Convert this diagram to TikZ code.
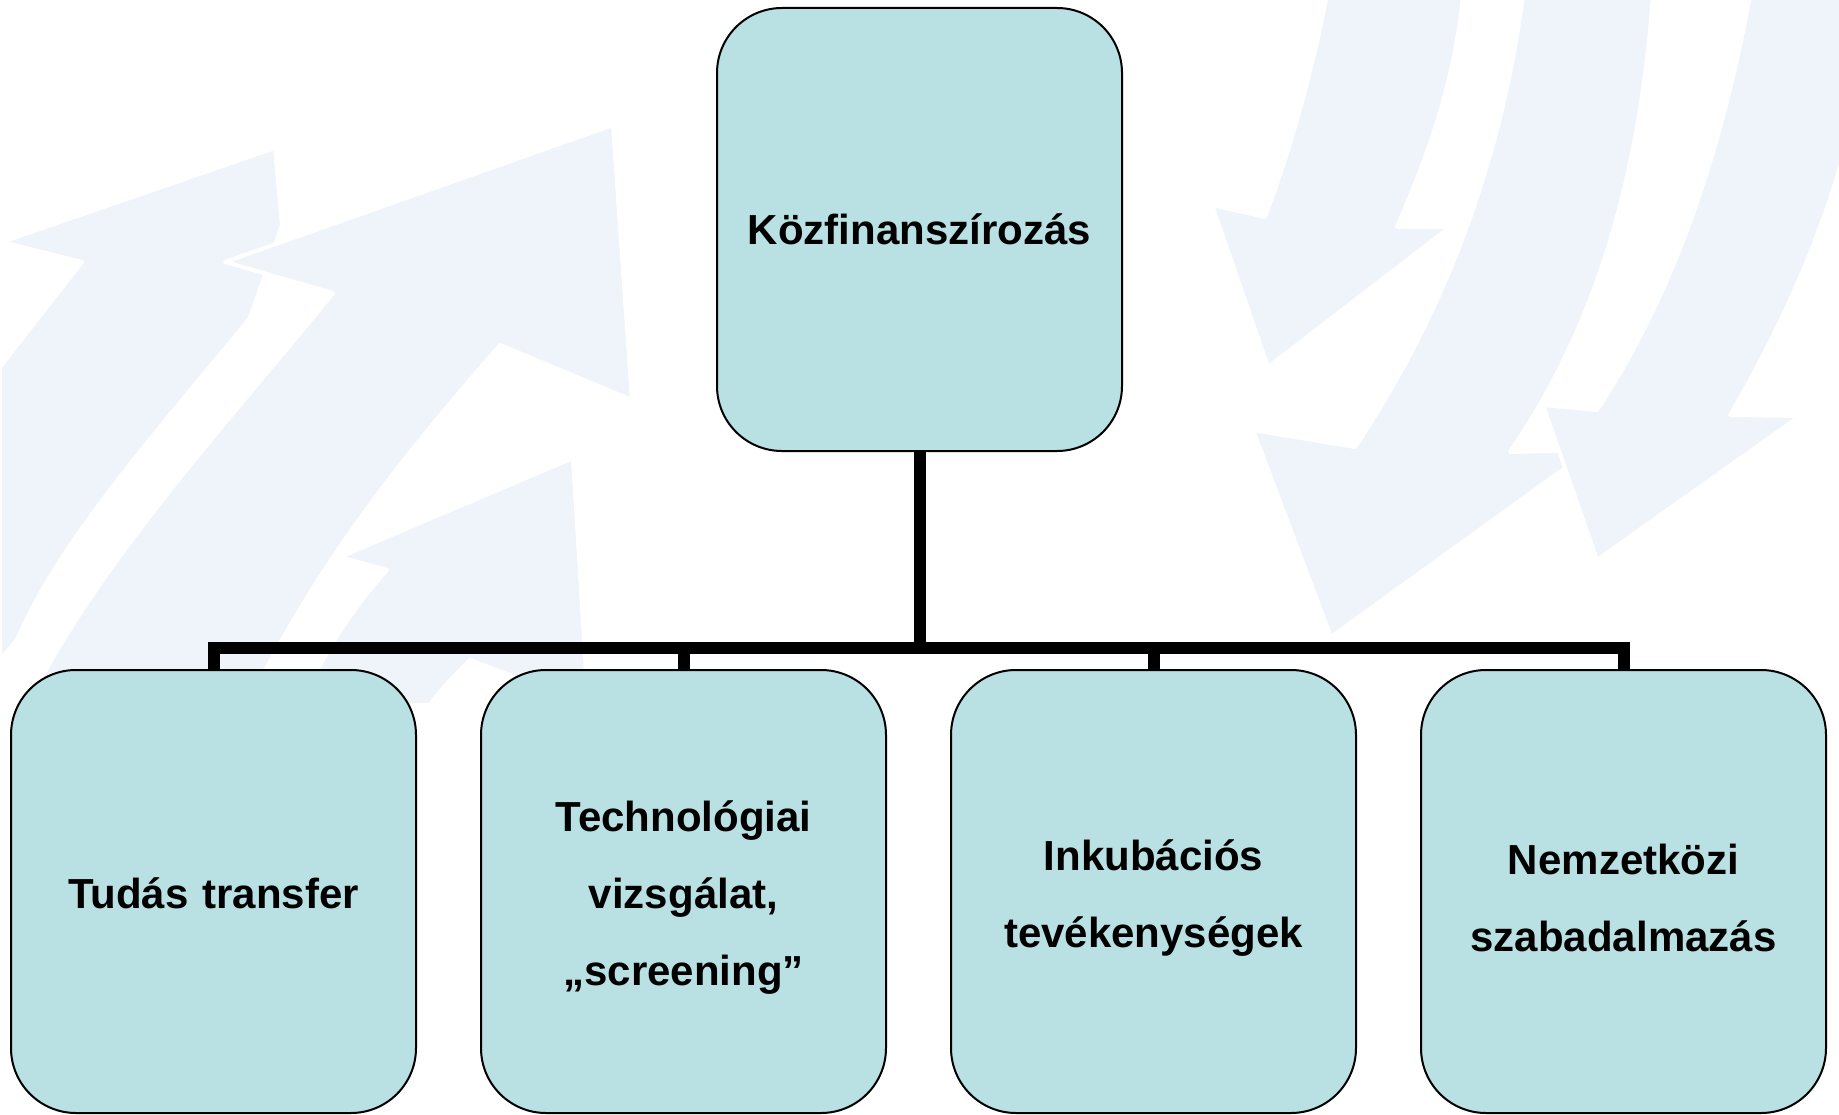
\documentclass[tikz,border=0pt]{standalone}
\usepackage{fontspec}
\setmainfont{Liberation Sans}
\definecolor{boxfill}{RGB}{185,224,227}
\definecolor{bgarrow}{RGB}{239,244,251}
\newcommand{\toppad}{\rule{0pt}{43pt}}
\begin{document}
\begin{tikzpicture}[x=1pt,y=-1pt,
  box/.style={draw=black, line width=2pt, fill=boxfill, rounded corners=65pt,
    minimum width=405pt, minimum height=443pt, inner sep=0pt,
    align=center, text width=390pt,
    font=\fontsize{42}{77}\selectfont\bfseries},
  conn/.style={draw=black, line width=12pt},
  bgshape/.style={fill=bgarrow, draw=white, line width=4pt, line join=round}]
\useasboundingbox (0,0) rectangle (1839,1115);
\fill[white] (0,0) rectangle (1839,1115);
% background arrows (left, pointing up-right)
\path[bgshape] (0,367) -- (82,262) -- (2,242) -- (275,148) -- (282,225) -- (250,318)
  .. controls (150,440) and (60,540) .. (17,640) -- (0,660) -- cycle;
\path[bgshape] (333,293) -- (225,262) -- (613,125) -- (632,400) -- (500,345)
  .. controls (400,460) and (320,560) .. (250,700) -- (30,700)
  .. controls (100,560) and (230,420) .. cycle;
\path[bgshape] (387,570) -- (340,557) -- (573,458) -- (588,705) -- (470,660)
  .. controls (450,680) and (440,690) .. (430,705) -- (300,705)
  .. controls (330,640) and (360,600) .. cycle;
% background arrows (right, pointing down-left)
\path[bgshape] (1327,-5) .. controls (1310,80) and (1290,150) .. (1265,217)
  -- (1212,205) -- (1268,367) -- (1450,227) -- (1397,227)
  .. controls (1430,150) and (1455,80) .. (1463,-5) -- cycle;
\path[bgshape] (1523,-5) .. controls (1500,170) and (1440,320) .. (1355,447)
  -- (1253,430) -- (1331,637) -- (1590,450) -- (1510,452)
  .. controls (1600,320) and (1640,170) .. (1653,-5) -- cycle;
\path[bgshape] (1750,-5) .. controls (1720,160) and (1670,300) .. (1597,410)
  -- (1543,405) -- (1597,560) -- (1800,416) -- (1730,415)
  .. controls (1780,330) and (1820,240) .. (1845,150) -- (1845,-5) -- cycle;
% boxes
\node[box] (top) at (919.5,229.5) {Közfinanszírozás};
\node[box] (b1) at (213.5,891.5) {\rule{0pt}{34pt}Tudás transfer};
\node[box] (b2) at (683.5,891.5) {\toppad Technológiai\\vizsgálat,\\„screening”};
\node[box] (b3) at (1153.5,891.5) {\toppad Inkubációs\\tevékenységek};
\node[box] (b4) at (1623.5,891.5) {\toppad Nemzetközi\\szabadalmazás};
% connectors
\coordinate (j) at (919.5,647.5);
\draw[conn] (top.south) -- (j);
\draw[conn] (b1.north) |- (j) -| (b4.north);
\draw[conn] (b2.north) -- (b2.north |- j);
\draw[conn] (b3.north) -- (b3.north |- j);
\end{tikzpicture}
\end{document}
